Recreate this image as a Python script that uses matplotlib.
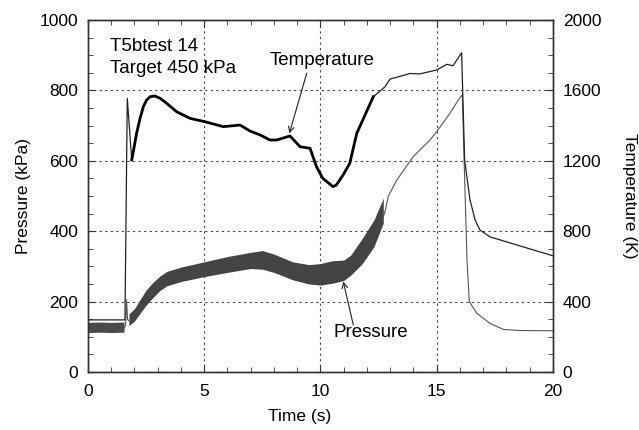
import numpy as np
import matplotlib.pyplot as plt
from matplotlib.ticker import MultipleLocator

plt.rcParams['font.family'] = ['Liberation Sans', 'DejaVu Sans']
plt.rcParams['font.size'] = 12.5

# pressure record before the diaphragm burst (noisy band)
p_pre_t = [0.0, 0.5, 1.0, 1.55]
p_pre_lo = [112, 113, 112, 113]
p_pre_hi = [141, 142, 141, 142]

# pressure spike at burst
p_spike_t = [1.55, 1.62, 1.66, 1.70, 1.76]
p_spike = [125, 132, 205, 150, 145]

# pressure band during the run (low/high envelope of the noisy signal)
p_band_t = [1.76, 2.0, 2.5, 2.8, 3.1, 3.4, 4.0, 5.0, 6.0, 7.0, 7.5, 8.0,
            8.8, 9.5, 10.0, 10.5, 11.0, 11.3, 11.8, 12.3, 12.7]
p_band_lo = [132, 145, 190, 212, 232, 245, 257, 271, 283, 294, 292, 283,
             262, 250, 247, 252, 260, 275, 308, 356, 423]
p_band_hi = [165, 180, 233, 255, 273, 286, 298, 313, 328, 340, 345, 335,
             313, 305, 308, 316, 318, 332, 380, 432, 494]

# pressure after the band (single trace)
p_post_t = [12.7, 12.77, 12.92, 13.28, 13.99, 14.71, 15.0, 15.57, 15.93,
            16.1, 16.17, 16.3, 16.4, 16.72, 17.29, 17.86, 18.5, 20.0]
p_post = [440, 455, 500, 545, 612, 659, 683, 735, 773,
          788, 620, 320, 200, 167, 138, 121, 118, 117]

# temperature (K)
temp_t = [0.0, 1.0, 1.59, 1.69, 1.88, 1.95, 2.09, 2.24, 2.38, 2.52, 2.67,
          2.88, 3.1, 3.38, 3.81, 4.39, 5.03, 5.82, 6.54, 6.97, 7.4, 7.83,
          8.11, 8.69, 9.12, 9.55, 9.83, 10.1, 10.54, 10.68, 10.97, 11.26,
          11.56, 12.27, 12.77, 12.99, 13.85, 14.28, 15.0, 15.43, 15.7,
          16.07, 16.2, 16.43, 16.65, 16.86, 17.29, 18.44, 20.0]
temp_k = [296, 296, 296, 1555, 1205, 1252, 1356, 1441, 1507, 1545, 1564,
          1568, 1555, 1527, 1479, 1441, 1422, 1394, 1403, 1369, 1347, 1318,
          1318, 1341, 1280, 1271, 1166, 1100, 1053, 1062, 1119, 1186,
          1356, 1564, 1620, 1664, 1696, 1694, 1716, 1748, 1740,
          1814, 1204, 978, 864, 806, 768, 722, 660]

fig = plt.figure(figsize=(6.39, 4.30), dpi=100)
ax = fig.add_axes([0.1377, 0.1349, 0.7277, 0.8186])
ax2 = ax.twinx()

# pressure
ax.fill_between(p_pre_t, p_pre_lo, p_pre_hi, color='#4a4a4a', lw=0)
ax.plot(p_spike_t, p_spike, color='#555555', lw=0.8)
ax.fill_between(p_band_t, p_band_lo, p_band_hi, color='#444444', lw=0)
ax.plot(p_post_t, p_post, color='#555555', lw=0.8)

# temperature: thin overall, heavier through the noisy middle section
ax2.plot(temp_t, temp_k, color='#222222', lw=0.9)
i0, i1 = temp_t.index(1.88), temp_t.index(12.27)
ax2.plot(temp_t[i0:i1 + 1], temp_k[i0:i1 + 1], color='black', lw=2.0)

ax.set_xlim(0, 20)
ax.set_ylim(0, 1000)
ax2.set_ylim(0, 2000)

ax.xaxis.set_major_locator(MultipleLocator(5))
ax.xaxis.set_minor_locator(MultipleLocator(1))
ax.yaxis.set_major_locator(MultipleLocator(200))
ax.yaxis.set_minor_locator(MultipleLocator(50))
ax2.yaxis.set_major_locator(MultipleLocator(400))
ax2.yaxis.set_minor_locator(MultipleLocator(100))

ax.tick_params(which='both', direction='in', top=True, right=False,
               colors='#333333', labelcolor='black')
ax.tick_params(which='major', length=5, pad=9)
ax.tick_params(which='minor', length=3.5)
ax.tick_params(axis='y', which='major', pad=7)
ax2.tick_params(which='both', direction='in', colors='#333333',
                labelcolor='black')
ax2.tick_params(which='major', length=5, pad=7)
ax2.tick_params(which='minor', length=3.5)

for a in (ax, ax2):
    for s in a.spines.values():
        s.set_color('#333333')
        s.set_linewidth(1.0)

ax.grid(True, which='major', linestyle=(0, (2, 3)), color='#444444', lw=0.8)

ax.set_xlabel('Time (s)')
ax.xaxis.set_label_coords(0.455, -0.105)
ax.set_ylabel('Pressure (kPa)', labelpad=6)
ax2.set_ylabel('Temperature (K)', rotation=270, labelpad=26)

note = 13.5
ax.text(0.95, 925, 'T5btest 14', va='center', ha='left', fontsize=note)
ax.text(0.95, 861, 'Target 450 kPa', va='center', ha='left', fontsize=note)

ax.text(7.83, 884, 'Temperature', va='center', ha='left', fontsize=note)
ax.annotate('', xy=(8.66, 678), xytext=(9.41, 849),
            arrowprops=dict(arrowstyle='->', color='#222222', lw=0.8,
                            shrinkA=0, shrinkB=0, mutation_scale=10))
ax.text(10.55, 112, 'Pressure', va='center', ha='left', fontsize=note)
ax.annotate('', xy=(10.98, 257), xytext=(11.41, 134),
            arrowprops=dict(arrowstyle='->', color='#222222', lw=0.8,
                            shrinkA=0, shrinkB=0, mutation_scale=10))

fig.savefig('out.png', dpi=100)
